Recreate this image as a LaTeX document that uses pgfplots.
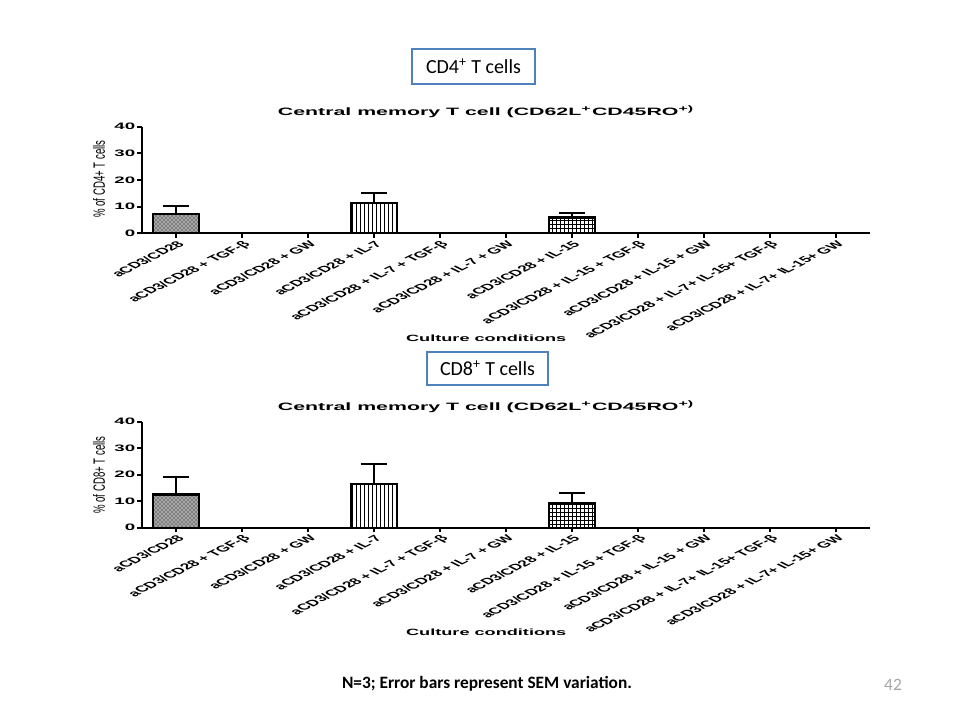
\documentclass[border=0pt]{standalone}
\usepackage{fontspec}
\setmainfont{Liberation Sans}
\newfontfamily\calibri{Carlito}
\usepackage{pgfplots}
\pgfplotsset{compat=1.18}
\usetikzlibrary{patterns}
\definecolor{boxblue}{HTML}{4F81BD}

\pgfplotsset{
  prism/.style={
    scale only axis, width=546.2pt,
    xmin=-0.52, xmax=10.52, ymin=0, ymax=40,
    axis x line*=bottom, axis y line*=left,
    axis line style={line width=1.4pt},
    tick align=outside, major tick length=3.5pt,
    every tick/.style={black, line width=1.4pt},
    xtick={0,...,10}, ytick={0,10,20,30,40},
    xticklabels={aCD3/CD28, aCD3/CD28 + TGF-β, aCD3/CD28 + GW, aCD3/CD28 + IL-7,
      aCD3/CD28 + IL-7 + TGF-β, aCD3/CD28 + IL-7 + GW, aCD3/CD28 + IL-15,
      aCD3/CD28 + IL-15 + TGF-β, aCD3/CD28 + IL-15 + GW,
      aCD3/CD28 + IL-7+ IL-15+ TGF-β, aCD3/CD28 + IL-7+ IL-15+ GW},
    /pgf/number format/assume math mode=true,
    xticklabel style={font=\bfseries\fontsize{6.5}{7}\selectfont, xscale=2, rotate=45, anchor=north east, inner sep=1pt},
    yticklabel style={font=\bfseries\fontsize{7}{8}\selectfont, xscale=2, anchor=east, inner sep=0.5pt},
    ybar, bar width=0.7,
    title style={at={(rel axis cs:0.473,1.065)}, anchor=center, font=\bfseries\fontsize{8}{9}\selectfont, xscale=2},
    xlabel style={at={(rel axis cs:0.473,-0.985)}, anchor=center, font=\bfseries\fontsize{6.8}{8}\selectfont, xscale=2},
    error bars/y dir=plus, error bars/y explicit,
    error bars/error bar style={line width=1.5pt, black},
    error bars/error mark options={black, rotate=90, line width=1.5pt, mark size=9.75pt},
    title={Central memory T cell (CD62L\textsuperscript{+}CD45RO\textsuperscript{+)}},
    xlabel={Culture conditions},
  },
  bar1/.style={bar shift=0pt, draw=black, line width=1.8pt, fill=gray!70, postaction={pattern=crosshatch dots}},
  bar2/.style={bar shift=0pt, draw=black, line width=1.8pt, fill=white, postaction={pattern=vertical lines}},
  bar3/.style={bar shift=0pt, draw=black, line width=1.8pt, fill=white, postaction={pattern=grid}},
}

\begin{document}
\begin{tikzpicture}
\path[use as bounding box] (0,0) rectangle (720pt,-540pt);

% CD4+ panel
\begin{axis}[prism, at={(106.3pt,-175pt)}, anchor=south west, height=80pt,
  ylabel={\% of CD4+ T cells},
  ylabel style={at={(rel axis cs:-0.0586,0.509)}, anchor=center, font=\fontsize{7.2}{8}\selectfont, yscale=1.7}]
\addplot[bar1] coordinates {(0,7.2) +- (0,2.9)};
\addplot[bar2] coordinates {(3,11.3) +- (0,3.8)};
\addplot[bar3] coordinates {(6,5.9) +- (0,1.8)};
\end{axis}

% CD8+ panel
\begin{axis}[prism, at={(106.3pt,-395.8pt)}, anchor=south west, height=79.5pt,
  ylabel={\% of CD8+ T cells},
  ylabel style={at={(rel axis cs:-0.0586,0.497)}, anchor=center, font=\fontsize{7.2}{8}\selectfont, yscale=1.7}]
\addplot[bar1] coordinates {(0,12.6) +- (0,6.4)};
\addplot[bar2] coordinates {(3,16.4) +- (0,7.6)};
\addplot[bar3] coordinates {(6,9.1) +- (0,4.1)};
\end{axis}

\begin{scope}[x=0.75pt, y=-0.75pt]
\node[draw=boxblue, line width=1.8pt, minimum width=92pt, minimum height=26pt, inner sep=0pt,
  font=\calibri\fontsize{15}{18}\selectfont] at (473.5,66.5) {CD4\textsuperscript{+} T cells};
\node[draw=boxblue, line width=1.8pt, minimum width=91pt, minimum height=25pt, inner sep=0pt,
  font=\calibri\fontsize{15}{18}\selectfont] at (487.5,368.5) {CD8\textsuperscript{+} T cells};
\node[font=\calibri\bfseries\fontsize{13}{15}\selectfont] at (487,684) {N=3; Error bars represent SEM variation.};
\node[font=\calibri\fontsize{13}{15}\selectfont, text=gray!70] at (893,685) {42};
\end{scope}
\end{tikzpicture}
\end{document}
